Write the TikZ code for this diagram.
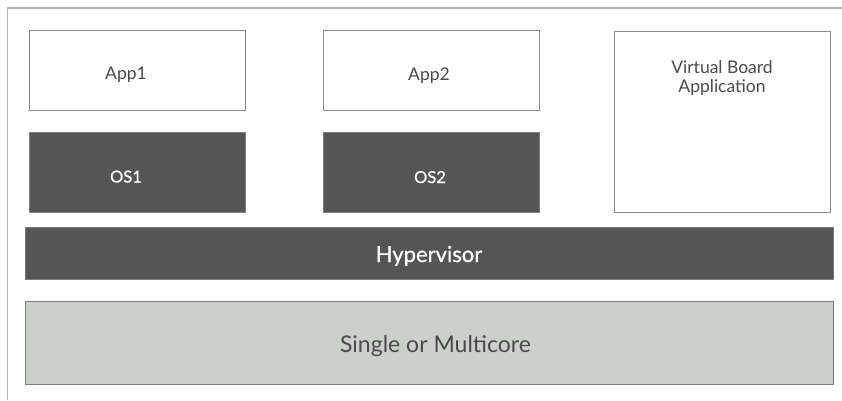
\documentclass[tikz,border=0pt]{standalone}
\usepackage{fontspec}
\setmainfont{Lato}
\newfontfamily\whitefont[FakeBold=0.7]{Lato}
\definecolor{darkbox}{HTML}{555555}
\definecolor{lightbox}{HTML}{CDCFCD}
\definecolor{edge}{HTML}{8A8A8A}
\definecolor{frame}{HTML}{B4B4B4}
\definecolor{txt}{HTML}{4A4A4A}
\begin{document}
\begin{tikzpicture}[x=1pt,y=-1pt,
  appbox/.style={draw=edge,line width=1pt,fill=white},
  osbox/.style={draw=edge!80!darkbox,line width=1pt,fill=darkbox},
  graytext/.style={text=txt,anchor=base,inner sep=0pt,font=\fontsize{17.5}{21}\selectfont},
  whitetext/.style={text=white,anchor=base,inner sep=0pt,font=\whitefont\fontsize{16.5}{20}\selectfont},
  layer/.style={line width=1pt}]
\useasboundingbox (0,0) rectangle (842,400);
\draw[frame,line width=1.5pt] (7.5,400) -- (7.5,8) -- (842,8);
% App boxes
\filldraw[appbox] (29,30) rectangle (245,110);
\node[graytext] (app1) at (126,79.5) {App1};
\filldraw[appbox] (323,30) rectangle (539,110);
\node[graytext] (app2) at (429,80) {App2};
% OS boxes
\filldraw[osbox] (29,132) rectangle (245,212);
\node[whitetext] (os1) at (126,182.5) {OS1};
\filldraw[osbox] (323,132) rectangle (539,212);
\node[whitetext] (os2) at (430,183) {OS2};
% Virtual board
\filldraw[appbox] (614,31) rectangle (830,212);
\node[graytext] (vba1) at (722,73) {Virtual Board};
\node[graytext] (vba2) at (722,92.5) {Application};
% Hypervisor
\filldraw[layer,draw=edge!70!darkbox,fill=darkbox] (25,227) rectangle (833,279);
\node[text=white,anchor=base,inner sep=0pt,font=\whitefont\fontsize{22}{26}\selectfont] (hyp) at (429,262) {Hypervisor};
% Single or Multicore
\filldraw[layer,draw=edge!90!black,fill=lightbox] (25,301) rectangle (833,384);
\node[text=txt,anchor=base,inner sep=0pt,font=\fontsize{23}{27}\selectfont] (core) at (435.5,352) {Single or Multicore};
\end{tikzpicture}
\end{document}
